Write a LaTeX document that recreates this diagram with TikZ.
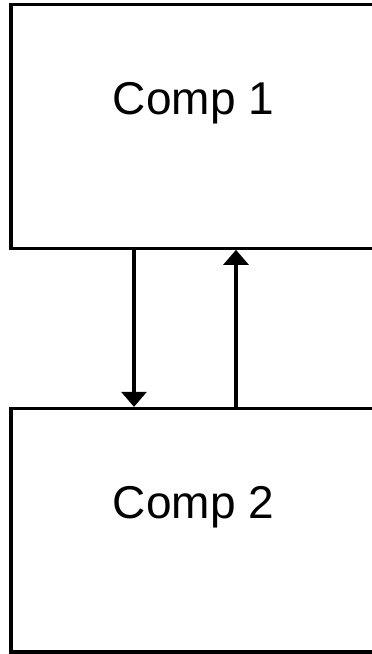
\documentclass[tikz,border=0pt]{standalone}
\usepackage{fontspec}
\setmainfont{Liberation Sans}
\usetikzlibrary{positioning,arrows.meta}

\begin{document}
\begin{tikzpicture}[x=1pt,y=1pt,line width=3.2pt,
        compbox/.style={draw,rectangle,minimum width=365pt,minimum height=243.5pt,inner sep=0},
        complabel/.style={font=\fontsize{46}{55}\selectfont},
        link/.style={-{Triangle[length=15pt,width=25pt]}},
        ]
        \useasboundingbox (0,0) rectangle (372,-654);

        \node[compbox] (c1) at (193.5,-126.5) {};
        \node[compbox,below=157pt of c1] (c2) {};
        \node[complabel] (l1) at ([yshift=23pt]c1.center) {Comp 1};
        \node[complabel] (l2) at ([yshift=23pt]c2.center) {Comp 2};

        \draw[link] (c1.south -| 134,0) -- (c2.north -| 134,0);
        \draw[link] (c2.north -| 236,0) -- (c1.south -| 236,0);
        \end{tikzpicture}
\end{document}
